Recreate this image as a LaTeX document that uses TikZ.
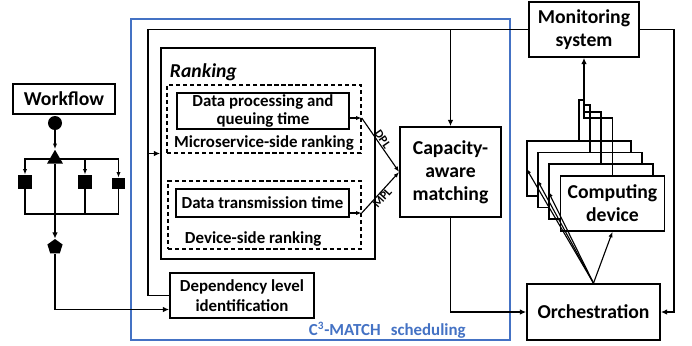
\documentclass[tikz,border=0pt]{standalone}
\usepackage{fontspec}
\setmainfont{Carlito}
\usetikzlibrary{shapes.geometric,arrows.meta,calc}
\definecolor{frameblue}{RGB}{68,114,196}

\tikzset{
  box/.style={draw,line width=1.2pt,fill=white,inner sep=0pt,align=center,
    font=\bfseries\fontsize{14}{16.5}\selectfont},
  smallbox/.style={box,line width=1pt,font=\bfseries\fontsize{12}{14.5}\selectfont},
  dashbox/.style={draw,line width=1pt,dash pattern=on 3pt off 2pt,inner sep=0pt},
  flownode/.style={fill=black,inner sep=0pt},
  link/.style={line width=1.2pt},
  arr/.style={link,-{Latex[length=4.5pt,width=4pt]}},
  thinarr/.style={line width=0.8pt,-{Latex[length=4pt,width=3pt]}},
  smalltext/.style={font=\bfseries\fontsize{12}{14.5}\selectfont},
  levellabel/.style={midway,sloped,inner sep=0.5pt,font=\bfseries\fontsize{8.5}{9}\selectfont},
}

\begin{document}
\begin{tikzpicture}[x=0.025cm,y=-0.025cm]
		\useasboundingbox (0,0) rectangle (692,345);

		% scheduler frame
		\draw[frameblue,line width=1pt] (131,19) rectangle (510,340);
		\node[anchor=west,text=frameblue,smalltext] (schedlabel) at (304,330) {C\textsuperscript{3}-MATCH\hspace{0.6em}scheduling};

		% workflow
		\node[box,minimum width=2.55cm,minimum height=0.75cm] (workflow) at (64,99) {Workflow};
		\node[flownode,circle,minimum size=0.35cm] (start) at (55,123) {};
		\node[flownode,regular polygon,regular polygon sides=3,minimum size=0.46cm] (fork) at (55,159) {};
		\node[flownode,minimum size=0.35cm] (sq1) at (25,182) {};
		\node[flownode,minimum size=0.35cm] (sq2) at (85,182) {};
		\node[flownode,minimum width=0.325cm,minimum height=0.275cm] (sq3) at (118.5,183.5) {};
		\node[flownode,regular polygon,regular polygon sides=5,minimum size=0.4cm] (finish) at (55,247) {};
		\coordinate (wjoin) at (55,214);

		\draw[thinarr] (start) -- (fork);
		\foreach \s in {sq1,sq2,sq3}
			\draw[thinarr] (fork.center) -| (\s.north);
		\draw[link] (sq1.south) |- (wjoin) -| (sq3.south);
		\draw[link] (sq2.south) -- (sq2.south |- wjoin);
		\draw[arr] (fork) -- (finish);

		% ranking
		\node[box,minimum width=5.35cm,minimum height=5.275cm] (rank) at (268,153.5) {};
		\node[anchor=west,font=\bfseries\itshape\fontsize{14}{16.5}\selectfont] (ranktitle) at (165,72) {Ranking};
		\node[dashbox,minimum width=4.85cm,minimum height=1.7cm] (ms) at (264,119) {};
		\node[dashbox,minimum width=4.825cm,minimum height=1.7cm] (dev) at (264.5,215) {};
		\node[smallbox,minimum width=4.3cm,minimum height=0.9cm] (dpq) at (263,111) {Data processing and\\[-1pt]queuing time};
		\node[smallbox,minimum width=4.325cm,minimum height=0.7cm] (dtt) at (262.5,203) {Data transmission time};
		\node[smalltext] (mslabel) at (264,143) {Microservice-side ranking};
		\node[smalltext,anchor=west] (devlabel) at (180,239) {Device-side ranking};

		\node[box,minimum width=2.525cm,minimum height=2.25cm] (cap) at (450.5,172) {Capacity-\\aware\\matching};
		\node[smallbox,line width=1.2pt,minimum width=3.6cm,minimum height=1.125cm] (dep) at (242,295.5) {Dependency level\\identification};

		\coordinate (dplp) at ($(dpq.east)+(12,7)$);
		\coordinate (mplp) at ($(dtt.east)+(12,10)$);
		\draw[thinarr] ($(dpq.east)+(0,7)$) -- (dplp);
		\draw[thinarr] ($(dtt.east)+(0,10)$) -- (mplp);
		\draw[thinarr] (dplp) -- (cap.west) node[levellabel,pos=0.45,above] {DPL};
		\draw[thinarr] (mplp) -- (cap.west) node[levellabel,pos=0.45,below] {MPL};

		% monitoring, devices, orchestration
		\node[box,minimum width=2.75cm,minimum height=1.375cm] (mon) at (584,29.5) {Monitoring\\system};
		\node[box,minimum width=3.325cm,minimum height=1.4cm] (orch) at (593.5,312) {Orchestration};
		\foreach \i/\cx/\cy in {1/579/168.5,2/590/180,3/601/191.5}
			\node[box,line width=1pt,minimum width=2.6cm,minimum height=1.375cm] (cd\i) at (\cx,\cy) {};
		\node[box,line width=1pt,minimum width=2.6cm,minimum height=1.375cm] (cd4) at (612.5,203.5) {Computing\\device};

		\foreach \i/\h in {1/42,2/47,3/54}
			\draw[line width=1pt] (cd\i.north) |- ($(mon.south)+(0,\h)$);
		\draw[arr,line width=1pt] (cd4.north) |- ($(mon.south)+(0,60)$) -- (mon.south);
		\foreach \i in {1,2,3}
			\draw[thinarr] (orch.north) -- (cd\i.west);
		\draw[thinarr] (orch.north) -- (cd4.south);

		% feedback loops
		\coordinate (loopL) at (148,29.5);
		\draw[link] (dep.west) -| (loopL) -- (mon.west);
		\draw[arr] (loopL |- rank.west) -- (rank.west);
		\draw[arr] (cap.north |- loopL) -- (cap.north);
		\draw[arr] (mon.east) -- ++(34,0) |- (orch.east);
		\draw[arr] (cap.south) |- (orch.west);
		\draw[arr] (finish) |- ($(dep.west)+(0,14)$);
\end{tikzpicture}
\end{document}
